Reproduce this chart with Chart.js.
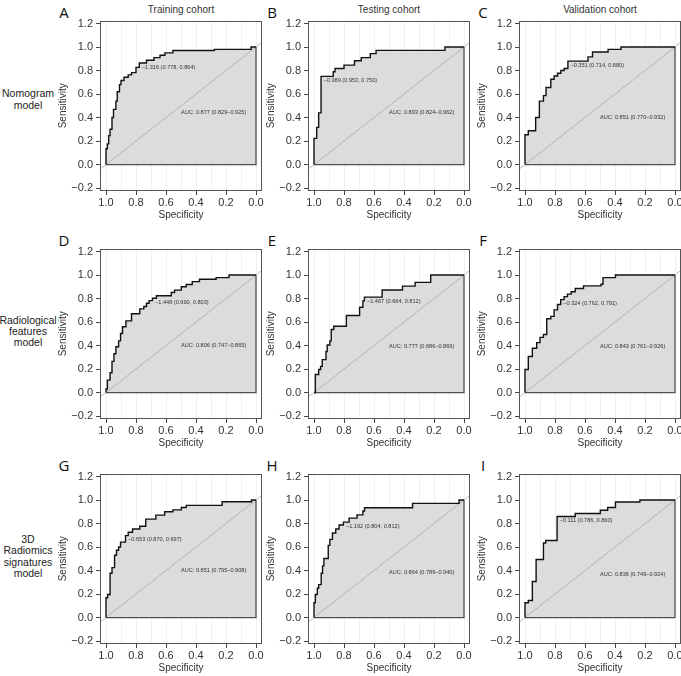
<!DOCTYPE html>
<html>
<head>
<meta charset="utf-8">
<script src="https://cdn.jsdelivr.net/npm/chart.js@4.4.1/dist/chart.umd.min.js"></script>
<style>
  html, body { margin: 0; padding: 0; background: #fff; }
  #fig { position: relative; width: 681px; height: 676px; overflow: hidden;
         font-family: "Liberation Sans", Arial, sans-serif; color: #333; }
  .lbl { position: absolute; white-space: nowrap; }
  canvas { position: absolute; }
</style>
</head>
<body>
<div id="fig"></div>
<script>
// ---- data ----
const cohorts = ['Training cohort', 'Testing cohort', 'Validation cohort'];
const models = [['Nomogram', 'model'], ['Radiological', 'features', 'model'], ['3D', 'Radiomics', 'signatures', 'model']];
const letters = ['A', 'B', 'C', 'D', 'E', 'F', 'G', 'H', 'I'];
const xTicks = [1.0, 0.9, 0.8, 0.7, 0.6, 0.5, 0.4, 0.3, 0.2, 0.1, 0.0];
const yTicks = [-0.2, 0.0, 0.2, 0.4, 0.6, 0.8, 1.0, 1.2];

// ROC corners: sensitivity jumps to sens[i] at specificity spec[i]
const specA = [1, 1, 0.991, 0.982, 0.973, 0.96, 0.95, 0.934, 0.925, 0.91, 0.90, 0.88, 0.852, 0.83, 0.80, 0.778, 0.73, 0.68, 0.64, 0.607, 0.554, 0.277, 0.033, 0];
const sensA = [0, 0.134, 0.176, 0.246, 0.30, 0.40, 0.47, 0.54, 0.62, 0.68, 0.715, 0.743, 0.763, 0.782, 0.827, 0.864, 0.888, 0.91, 0.93, 0.95, 0.97, 0.98, 1.0, 1.0];
const specB = [1, 1, 0.982, 0.969, 0.953, 0.872, 0.86, 0.80, 0.73, 0.685, 0.625, 0.586, 0.127, 0];
const sensB = [0, 0.223, 0.316, 0.44, 0.75, 0.79, 0.818, 0.846, 0.883, 0.91, 0.944, 0.972, 1.0, 1.0];
const specC = [1, 1, 0.978, 0.929, 0.904, 0.877, 0.86, 0.828, 0.806, 0.783, 0.761, 0.739, 0.714, 0.58, 0.55, 0.446, 0.36, 0];
const sensC = [0, 0.254, 0.288, 0.40, 0.54, 0.587, 0.656, 0.726, 0.754, 0.777, 0.80, 0.818, 0.88, 0.916, 0.958, 0.98, 1.0, 1.0];
const specD = [1, 1, 0.991, 0.973, 0.96, 0.947, 0.934, 0.916, 0.903, 0.89, 0.867, 0.83, 0.775, 0.748, 0.73, 0.713, 0.69, 0.664, 0.565, 0.543, 0.498, 0.465, 0.425, 0.377, 0.266, 0.18, 0];
const sensD = [0, 0.03, 0.106, 0.168, 0.265, 0.33, 0.39, 0.44, 0.503, 0.56, 0.61, 0.67, 0.712, 0.732, 0.76, 0.782, 0.803, 0.824, 0.852, 0.872, 0.90, 0.92, 0.944, 0.964, 0.978, 1.0, 1.0];
const specE = [1, 0.991, 0.969, 0.956, 0.945, 0.92, 0.912, 0.894, 0.885, 0.868, 0.784, 0.696, 0.674, 0.664, 0.546, 0.41, 0.326, 0.222, 0];
const sensE = [0, 0.154, 0.196, 0.223, 0.28, 0.35, 0.405, 0.44, 0.536, 0.564, 0.656, 0.726, 0.78, 0.812, 0.873, 0.906, 0.938, 1.0, 1.0];
const specF = [1, 1, 0.978, 0.951, 0.922, 0.90, 0.877, 0.855, 0.828, 0.806, 0.783, 0.762, 0.739, 0.717, 0.692, 0.665, 0.61, 0.493, 0.48, 0.397, 0];
const sensF = [0, 0.196, 0.307, 0.377, 0.425, 0.47, 0.494, 0.628, 0.648, 0.704, 0.749, 0.791, 0.816, 0.838, 0.858, 0.885, 0.908, 0.922, 0.978, 1.0, 1.0];
const specG = [1, 1, 0.989, 0.973, 0.96, 0.943, 0.93, 0.916, 0.903, 0.87, 0.852, 0.823, 0.775, 0.735, 0.668, 0.609, 0.554, 0.498, 0.465, 0.226, 0.03, 0];
const sensG = [0, 0.168, 0.196, 0.377, 0.425, 0.53, 0.573, 0.60, 0.642, 0.697, 0.726, 0.754, 0.777, 0.838, 0.872, 0.90, 0.916, 0.936, 0.955, 0.986, 1.0, 1.0];
const specH = [1, 1, 0.991, 0.978, 0.969, 0.952, 0.943, 0.934, 0.905, 0.894, 0.877, 0.855, 0.833, 0.804, 0.766, 0.713, 0.674, 0.663, 0.343, 0.033, 0];
const sensH = [0, 0.126, 0.196, 0.25, 0.28, 0.377, 0.44, 0.503, 0.614, 0.665, 0.72, 0.754, 0.788, 0.812, 0.846, 0.874, 0.907, 0.935, 0.972, 1.0, 1.0];
const specI = [1, 1, 0.978, 0.951, 0.926, 0.877, 0.862, 0.786, 0.665, 0.498, 0.449, 0.397, 0.234, 0];
const sensI = [0, 0.126, 0.145, 0.307, 0.494, 0.634, 0.656, 0.86, 0.885, 0.913, 0.936, 0.983, 1.0, 1.0];

// best threshold: [threshold, specificity, sensitivity]
const thresholds = [[-1.316, 0.778, 0.864], [-0.389, 0.953, 0.750], [-0.351, 0.714, 0.880],
                    [-1.448, 0.690, 0.803], [-1.467, 0.664, 0.812], [-0.324, 0.762, 0.791],
                    [-0.653, 0.870, 0.697], [-1.192, 0.804, 0.812], [-0.111, 0.786, 0.860]];
// AUC with 95% CI: [auc, lower, upper]
const aucs = [[0.877, 0.829, 0.925], [0.893, 0.824, 0.962], [0.851, 0.770, 0.932],
              [0.806, 0.747, 0.865], [0.777, 0.686, 0.869], [0.843, 0.761, 0.926],
              [0.851, 0.795, 0.908], [0.864, 0.789, 0.940], [0.836, 0.749, 0.924]];
const curves = [[specA, sensA], [specB, sensB], [specC, sensC], [specD, sensD], [specE, sensE],
                [specF, sensF], [specG, sensG], [specH, sensH], [specI, sensI]];

// ---- layout ----
const boxLeft = [100, 308, 519], boxTop = [16, 244, 469];
const BOX_W = 162, BOX_H = 175, AX_W = 45, AX_H = 32, PAD = 5;
const aucLabelY = [0.44, 0.44, 0.40, 0.40, 0.39, 0.39, 0.40, 0.38, 0.37];
const fig = document.getElementById('fig');
const fmt = v => v.toFixed(3).replace('-', '\u2212');
const axisFmt = v => Math.abs(v) < 1e-9 ? '0.0' : v.toFixed(1).replace('-', '\u2212');

function addLabel(text, x, y, size, extra) {
    const d = document.createElement('div');
    d.className = 'lbl';
    d.textContent = text;
    d.style.fontSize = size + 'px';
    d.style.left = x + 'px';
    d.style.top = y + 'px';
    d.style.transform = 'translate(-50%, -50%)';
    if (extra) Object.assign(d.style, extra);
    fig.appendChild(d);
}

cohorts.forEach((c, i) => addLabel(c, boxLeft[i] + BOX_W / 2, 8.5, 10));
models.forEach((lines, r) => {
    const mid = boxTop[r] + 87 - (r === 0 ? 4 : 0);
    lines.forEach((t, k) => addLabel(t, 28, mid + (k - (lines.length - 1) / 2) * 11.3, 10.5, { color: '#222' }));
});
letters.forEach((l, i) => {
    const r = Math.floor(i / 3), c = i % 3;
    addLabel(l, boxLeft[c] - 36, boxTop[r] - 4, 15, { color: '#111', fontFamily: '"Open Sans", sans-serif' });
});

const boxPlugin = {
    id: 'box',
    afterDatasetsDraw(chart) {
        const { ctx, chartArea: a } = chart;
        ctx.save();
        ctx.strokeStyle = '#555';
        ctx.lineWidth = 1;
        ctx.strokeRect(Math.round(a.left) + 0.5, Math.round(a.top) + 0.5, Math.round(a.width) - 1, Math.round(a.height) - 1);
        ctx.restore();
    }
};

const textPlugin = {
    id: 'rocText',
    afterDatasetsDraw(chart, args, opts) {
        const { ctx, scales: { x, y } } = chart;
        const [th, sp, se] = thresholds[opts.idx];
        const [auc, lo, hi] = aucs[opts.idx];
        ctx.save();
        ctx.font = '5.6px "Liberation Sans", Arial, sans-serif';
        ctx.fillStyle = '#333';
        ctx.textBaseline = 'middle';
        ctx.textAlign = 'left';
        ctx.fillText(`${fmt(th)} (${sp.toFixed(3)}, ${se.toFixed(3)})`, x.getPixelForValue(sp) + 2.5, y.getPixelForValue(se) + 4);
        ctx.fillText(`AUC: ${auc.toFixed(3)} (${lo.toFixed(3)}\u2013${hi.toFixed(3)})`, x.getPixelForValue(0.5), y.getPixelForValue(aucLabelY[opts.idx]));
        ctx.restore();
    }
};

function makePanel(idx) {
    const r = Math.floor(idx / 3), c = idx % 3;
    const canvas = document.createElement('canvas');
    const w = BOX_W + AX_W + PAD, h = BOX_H + AX_H + PAD;
    canvas.width = w; canvas.height = h;
    canvas.style.left = (boxLeft[c] - AX_W) + 'px';
    canvas.style.top = (boxTop[r] - PAD) + 'px';
    canvas.style.width = w + 'px'; canvas.style.height = h + 'px';
    fig.appendChild(canvas);

    const [spec, sens] = curves[idx];
    const roc = spec.map((s, k) => ({ x: s, y: sens[k] }));
    const tickFont = { family: '"Liberation Sans", Arial, sans-serif', size: 11 };
    const titleFont = { family: '"Liberation Sans", Arial, sans-serif', size: 10 };

    new Chart(canvas, {
        type: 'scatter',
        data: {
            datasets: [
                { data: roc, showLine: true, stepped: 'before', borderColor: '#111', borderWidth: 1.4,
                  pointRadius: 0, fill: 'origin', backgroundColor: '#dcdcdc' },
                { data: [{ x: 1, y: 0 }, { x: 0, y: 0 }, { x: 0, y: 1 }], showLine: true, borderColor: '#505050',
                  borderWidth: 1.3, pointRadius: 0 },
                { data: [{ x: 1.04, y: -0.04 }, { x: -0.04, y: 1.04 }], showLine: true, borderColor: '#a8a8a8',
                  borderWidth: 0.8, pointRadius: 0 },
            ],
        },
        options: {
            responsive: false, animation: false, devicePixelRatio: 1,
            layout: { padding: { top: PAD, right: PAD, left: 0, bottom: 0 } },
            plugins: { legend: { display: false }, tooltip: { enabled: false },
                       filler: { drawTime: 'beforeDatasetsDraw' }, rocText: { idx } },
            scales: {
                x: {
                    type: 'linear', reverse: true, min: -0.04, max: 1.04,
                    afterBuildTicks: s => { s.ticks = xTicks.map(v => ({ value: v })); },
                    afterFit: s => { s.height = AX_H; },
                    ticks: { autoSkip: false, maxRotation: 0, padding: 1, color: '#333', font: tickFont,
                             callback: v => (Math.round(v * 10) % 2 === 0 ? axisFmt(v) : '') },
                    grid: { color: '#f0f0f0', lineWidth: 1, tickLength: 4,
                            tickColor: ctx => (Math.round(ctx.tick.value * 10) % 2 === 0 ? '#444' : 'rgba(0,0,0,0)') },
                    border: { display: false },
                    title: { display: true, text: 'Specificity', color: '#333', font: titleFont, padding: { top: 0, bottom: 2 } },
                },
                y: {
                    type: 'linear', min: -0.225, max: 1.225,
                    afterBuildTicks: s => { s.ticks = yTicks.map(v => ({ value: v })); },
                    afterFit: s => { s.width = AX_W; },
                    ticks: { autoSkip: false, padding: 3, color: '#333', font: tickFont, callback: v => axisFmt(v) },
                    grid: { drawOnChartArea: false, tickLength: 4, tickColor: '#444' },
                    border: { display: false },
                    title: { display: true, text: 'Sensitivity', color: '#333', font: titleFont, padding: { top: 2, bottom: 0 } },
                },
            },
        },
        plugins: [boxPlugin, textPlugin],
    });
}

for (let i = 0; i < 9; i++) makePanel(i);
</script>
</body>
</html>
